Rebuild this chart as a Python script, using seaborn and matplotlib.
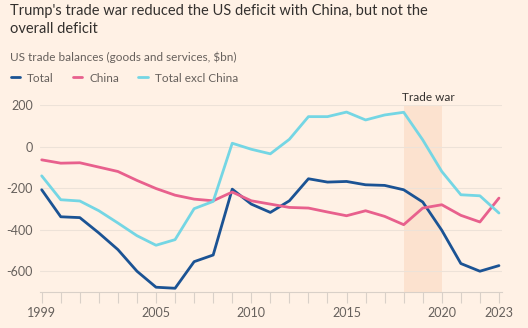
import matplotlib
matplotlib.use("Agg")
import matplotlib.pyplot as plt
import seaborn as sns
import pandas as pd
import numpy as np
from matplotlib.lines import Line2D

years = list(range(1999, 2024))
total = [-208, -338, -342, -416, -496, -600, -677, -682, -554, -522, -205, -277,
         -317, -261, -155, -171, -168, -184, -187, -208, -267, -403, -563, -600, -573]
china = [-64, -80, -78, -99, -120, -163, -202, -234, -253, -261, -219, -261,
         -277, -293, -296, -315, -333, -309, -336, -376, -296, -280, -331, -363, -248]
excl_china = [-141, -256, -262, -309, -368, -429, -475, -448, -299, -264, 16, -13,
              -35, 35, 144, 144, 166, 128, 152, 165, 32, -120, -232, -237, -320]
series_names = ["Total", "China", "Total excl China"]
colors = ["#1B5394", "#E8608D", "#74D6E4"]
xtick_labels = [1999, 2005, 2010, 2015, 2020, 2023]
yticks = [-600, -400, -200, 0, 200]
trade_war = (2018, 2020)

df = pd.DataFrame({
    "year": years * 3,
    "value": total + china + excl_china,
    "series": [series_names[0]] * len(years) + [series_names[1]] * len(years) + [series_names[2]] * len(years),
})

sns.set_theme(style="white")
plt.rcParams["font.family"] = ["Lato", "DejaVu Sans"]
plt.rcParams["axes.unicode_minus"] = False

bg = "#FFF1E5"
W, H = 528, 328
fig = plt.figure(figsize=(W / 100, H / 100), dpi=100, facecolor=bg)
ax = fig.add_axes([40 / W, (H - 292) / H, (502 - 40) / W, (292 - 105) / H])
ax.set_facecolor(bg)

ax.axvspan(trade_war[0], trade_war[1], color="#FCE2CF", zorder=0, lw=0)

sns.lineplot(data=df, x="year", y="value", hue="series", hue_order=series_names,
             palette=colors, linewidth=2, ax=ax, legend=False, zorder=3)

ax.set_xlim(1998.91, 2023.16)
ax.set_ylim(-700, 200)
ax.set_yticks(yticks)
ax.set_yticklabels([str(v) for v in yticks])
ax.set_xticks(years)
ax.set_xticklabels([str(y) if y in xtick_labels else "" for y in years])
ax.grid(axis="y", color="#EDE2D8", lw=0.8)
ax.grid(axis="x", visible=False)
for s in ["top", "right", "left"]:
    ax.spines[s].set_visible(False)
ax.spines["bottom"].set_color("#D9D0C8")
ax.spines["bottom"].set_linewidth(0.8)
ax.tick_params(axis="x", length=8, width=0.8, color="#D9D0C8", labelsize=9,
               labelcolor="#66605C", pad=3, bottom=True)
ax.tick_params(axis="y", length=0, labelsize=9, labelcolor="#66605C", pad=5)
ax.set_xlabel("")
ax.set_ylabel("")

ax.text(trade_war[0] - 0.1, 200 + 8, "Trade war", fontsize=8.5, color="#33302E",
        ha="left", va="bottom")

fig.text(10 / W, 1 - 20 / H, "Trump's trade war reduced the US deficit with China, but not the\noverall deficit",
         fontsize=10.5, color="#33302E", ha="left", va="center", linespacing=1.35)
fig.text(10 / W, 1 - 57 / H, "US trade balances (goods and services, $bn)",
         fontsize=8.5, color="#66605C", ha="left", va="center")

handles = [Line2D([0], [0], color=c, lw=2) for c in colors]
fig.legend(handles, series_names, loc="center left", bbox_to_anchor=(0 / W, 1 - 78 / H),
           ncol=3, frameon=False, fontsize=8.5, handlelength=0.8, handletextpad=0.6,
           columnspacing=1.6, labelcolor="#66605C")

fig.savefig("out.png", dpi=100, facecolor=bg)
